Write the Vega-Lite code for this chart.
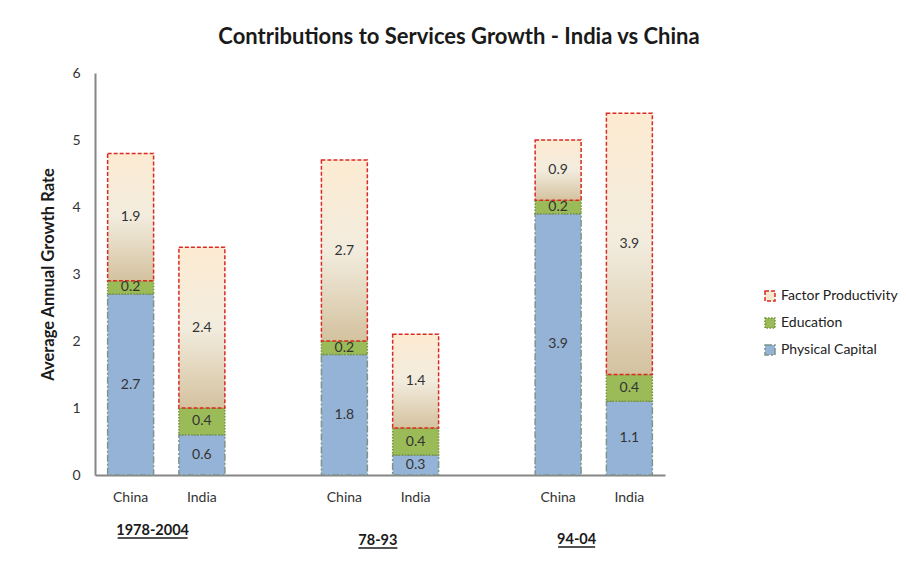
{
  "$schema": "https://vega.github.io/schema/vega-lite/v6.json",
  "width": 570,
  "height": 402,
  "autosize": {"type": "none"},
  "padding": {"left": 95, "top": 73, "right": 241, "bottom": 113},
  "background": "white",
  "config": {
    "view": {"stroke": null},
    "font": "Lato",
    "axis": {"domainColor": "#868686", "domainWidth": 2, "grid": false, "ticks": false, "labelFont": "Lato", "labelColor": "#333333", "labelFontSize": 14, "labelOverlap": false}
  },
  "title": {
    "text": "Contributions to Services Growth - India vs China",
    "font": "Lato",
    "fontSize": 22,
    "fontWeight": "bold",
    "color": "#1a1a1a",
    "anchor": "middle",
    "dx": 79,
    "offset": 17
  },
  "data": {
    "values": [
      {"bar": "1978-2004 China", "component": "Physical Capital", "k": 1, "value": 2.7},
      {"bar": "1978-2004 China", "component": "Education", "k": 2, "value": 0.2},
      {"bar": "1978-2004 China", "component": "Factor Productivity", "k": 3, "value": 1.9},
      {"bar": "1978-2004 India", "component": "Physical Capital", "k": 1, "value": 0.6},
      {"bar": "1978-2004 India", "component": "Education", "k": 2, "value": 0.4},
      {"bar": "1978-2004 India", "component": "Factor Productivity", "k": 3, "value": 2.4},
      {"bar": "78-93 China", "component": "Physical Capital", "k": 1, "value": 1.8},
      {"bar": "78-93 China", "component": "Education", "k": 2, "value": 0.2},
      {"bar": "78-93 China", "component": "Factor Productivity", "k": 3, "value": 2.7},
      {"bar": "78-93 India", "component": "Physical Capital", "k": 1, "value": 0.3},
      {"bar": "78-93 India", "component": "Education", "k": 2, "value": 0.4},
      {"bar": "78-93 India", "component": "Factor Productivity", "k": 3, "value": 1.4},
      {"bar": "94-04 China", "component": "Physical Capital", "k": 1, "value": 3.9},
      {"bar": "94-04 China", "component": "Education", "k": 2, "value": 0.2},
      {"bar": "94-04 China", "component": "Factor Productivity", "k": 3, "value": 0.9},
      {"bar": "94-04 India", "component": "Physical Capital", "k": 1, "value": 1.1},
      {"bar": "94-04 India", "component": "Education", "k": 2, "value": 0.4},
      {"bar": "94-04 India", "component": "Factor Productivity", "k": 3, "value": 3.9}
    ]
  },
  "layer": [
    {
      "mark": {"type": "bar", "strokeWidth": 1.5},
      "encoding": {
        "x": {
          "field": "bar", "type": "nominal",
          "scale": {"domain": ["1978-2004 China", "1978-2004 India", "gap1", "78-93 China", "78-93 India", "gap2", "94-04 China", "94-04 India"], "paddingInner": 0.355, "paddingOuter": 0.1775},
          "axis": {"title": null, "labelAngle": 0, "labelPadding": 15, "labelExpr": "indexof(datum.value, ' ') > 0 ? split(datum.value, ' ')[1] : ''"}
        },
        "y": {
          "field": "value", "type": "quantitative", "stack": "zero",
          "scale": {"domain": [0, 6], "nice": false},
          "axis": {"title": "Average Annual Growth Rate", "titleFont": "Lato", "titleFontSize": 16.5, "titleFontWeight": "bold", "titleColor": "#1a1a1a", "titlePadding": 15, "labelPadding": 15, "format": "d", "values": [0, 1, 2, 3, 4, 5, 6]}
        },
        "order": {"field": "k", "type": "quantitative"},
        "fill": {
          "condition": {"test": "datum.component === 'Factor Productivity'", "value": {"gradient": "linear", "x1": 0, "y1": 0, "x2": 0, "y2": 1, "stops": [{"offset": 0, "color": "#FDEBD2"}, {"offset": 0.5, "color": "#F2ECDE"}, {"offset": 1, "color": "#D4C29F"}]}},
          "field": "component", "type": "nominal",
          "scale": {"domain": ["Factor Productivity", "Education", "Physical Capital"], "range": ["#F6E9D2", "#9BBB59", "#95B3D7"]},
          "legend": {"title": null, "orient": "none", "legendX": 668, "legendY": 216, "symbolType": "square", "symbolSize": 100, "rowPadding": 11, "labelFont": "Lato", "labelFontSize": 14, "labelColor": "#222222", "labelOffset": 4, "symbolStrokeWidth": 1.5}
        },
        "stroke": {
          "field": "component", "type": "nominal",
          "scale": {"domain": ["Factor Productivity", "Education", "Physical Capital"], "range": ["#DA2A22", "#77933C", "#7F9488"]},
          "legend": null
        },
        "strokeDash": {
          "field": "component", "type": "nominal",
          "scale": {"domain": ["Factor Productivity", "Education", "Physical Capital"], "range": [[4, 2], [1.5, 1.5], [7, 2, 2, 2]]},
          "legend": null
        }
      }
    },
    {
      "mark": {"type": "text", "font": "Lato", "fontSize": 14, "color": "#333333", "baseline": "middle"},
      "encoding": {
        "x": {"field": "bar", "type": "nominal"},
        "y": {"field": "value", "type": "quantitative", "stack": "zero", "bandPosition": 0.5},
        "order": {"field": "k", "type": "quantitative"},
        "detail": {"field": "component", "type": "nominal"},
        "text": {"field": "value", "type": "quantitative", "format": ".1f"}
      }
    },
    {
      "data": {"values": [{"bar": "1978-2004 China", "label": "1978-2004"}]},
      "layer": [
        {
          "mark": {"type": "text", "font": "Lato", "fontSize": 14.5, "fontWeight": "bold", "color": "#1a1a1a", "dx": 22, "baseline": "middle"},
          "encoding": {"x": {"field": "bar", "type": "nominal"}, "y": {"datum": -0.83}, "text": {"field": "label"}}
        },
        {
          "mark": {"type": "rule", "color": "#1a1a1a", "strokeWidth": 1.5, "xOffset": -13, "x2Offset": 57},
          "encoding": {"x": {"field": "bar", "type": "nominal"}, "x2": {"field": "bar"}, "y": {"datum": -0.94}}
        }
      ]
    },
    {
      "data": {"values": [{"bar": "78-93 China", "label": "78-93"}]},
      "layer": [
        {
          "mark": {"type": "text", "font": "Lato", "fontSize": 14.5, "fontWeight": "bold", "color": "#1a1a1a", "dx": 33.5, "baseline": "middle"},
          "encoding": {"x": {"field": "bar", "type": "nominal"}, "y": {"datum": -0.985}, "text": {"field": "label"}}
        },
        {
          "mark": {"type": "rule", "color": "#1a1a1a", "strokeWidth": 1.5, "xOffset": 14, "x2Offset": 53},
          "encoding": {"x": {"field": "bar", "type": "nominal"}, "x2": {"field": "bar"}, "y": {"datum": -1.09}}
        }
      ]
    },
    {
      "data": {"values": [{"bar": "94-04 China", "label": "94-04"}]},
      "layer": [
        {
          "mark": {"type": "text", "font": "Lato", "fontSize": 14.5, "fontWeight": "bold", "color": "#1a1a1a", "dx": 18.5, "baseline": "middle"},
          "encoding": {"x": {"field": "bar", "type": "nominal"}, "y": {"datum": -0.97}, "text": {"field": "label"}}
        },
        {
          "mark": {"type": "rule", "color": "#1a1a1a", "strokeWidth": 1.5, "xOffset": 0, "x2Offset": 37},
          "encoding": {"x": {"field": "bar", "type": "nominal"}, "x2": {"field": "bar"}, "y": {"datum": -1.075}}
        }
      ]
    }
  ]
}
